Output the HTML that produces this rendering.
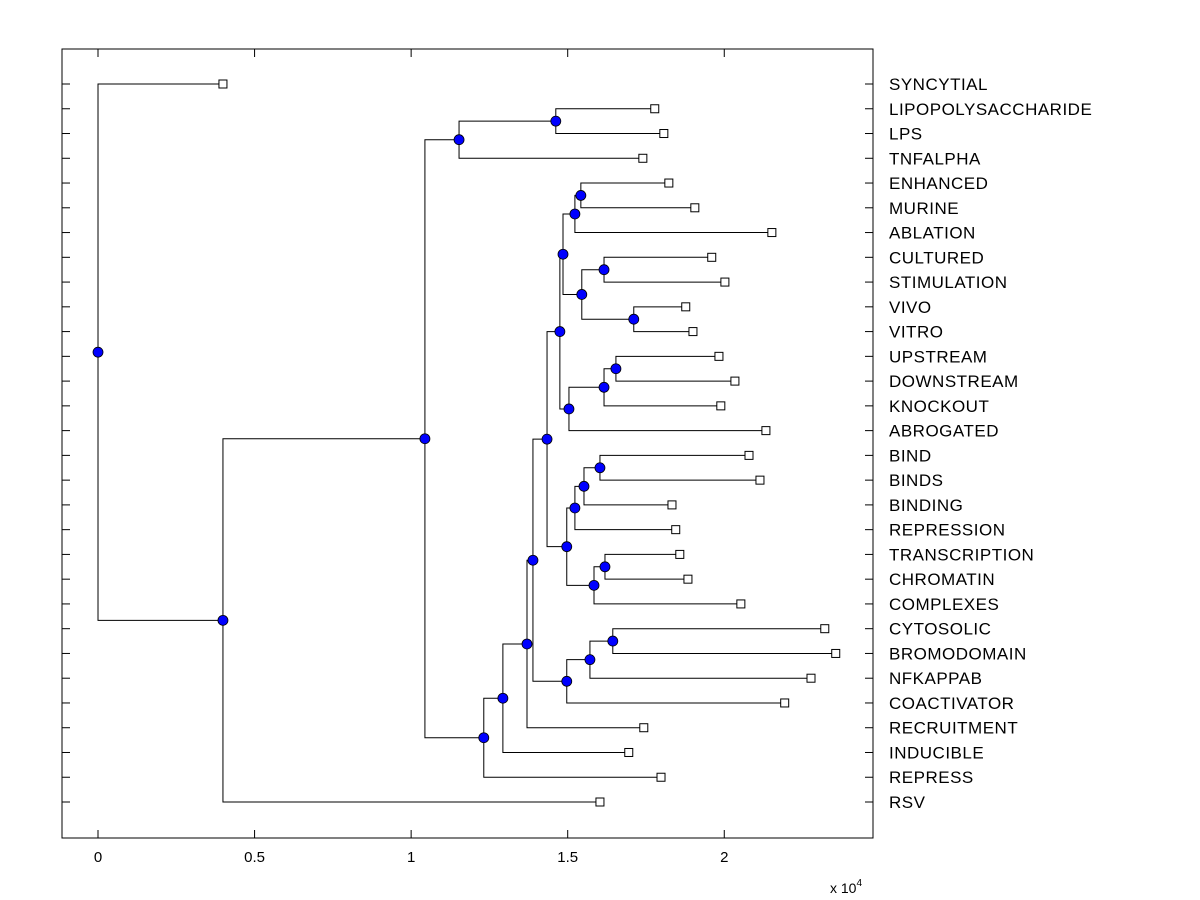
<!DOCTYPE html>
<html><head><meta charset="utf-8"><style>
body{margin:0;background:#fff;}
svg{display:block;font-family:"Liberation Sans",Arial,sans-serif;}
</style></head><body>
<svg id="chart" width="1200" height="900">
<rect x="0" y="0" width="1200" height="900" fill="#fff"/>
<g id="grid"></g>
<g id="links"></g>
<g id="marks"></g>
<g id="labels"></g>
<rect x="62" y="49" width="811" height="789" fill="none" stroke="#000" stroke-width="1"/>
<text x="830" y="893" font-size="14">x 10<tspan dy="-7" font-size="10">4</tspan></text>
</svg>
<script>
const leafLabels=["SYNCYTIAL","LIPOPOLYSACCHARIDE","LPS","TNFALPHA","ENHANCED","MURINE","ABLATION","CULTURED","STIMULATION","VIVO","VITRO","UPSTREAM","DOWNSTREAM","KNOCKOUT","ABROGATED","BIND","BINDS","BINDING","REPRESSION","TRANSCRIPTION","CHROMATIN","COMPLEXES","CYTOSOLIC","BROMODOMAIN","NFKAPPAB","COACTIVATOR","RECRUITMENT","INDUCIBLE","REPRESS","RSV"];
const leafValues=[0.399,1.778,1.807,1.740,1.823,1.906,2.152,1.960,2.002,1.877,1.900,1.983,2.034,1.989,2.133,2.079,2.114,1.833,1.845,1.858,1.884,2.053,2.321,2.356,2.277,2.193,1.743,1.695,1.798,1.603];
const nodeLeft=[1,30,4,32,7,9,34,33,11,38,39,37,15,42,43,19,45,44,41,22,49,50,48,52,53,54,31,56,0];
const nodeRight=[2,3,5,6,8,10,35,36,12,13,14,40,16,17,18,20,21,46,47,23,24,25,51,26,27,28,55,29,57];
const nodeHeight=[1.462,1.153,1.542,1.523,1.616,1.711,1.545,1.485,1.654,1.616,1.504,1.475,1.603,1.552,1.523,1.619,1.584,1.497,1.434,1.644,1.571,1.497,1.389,1.370,1.293,1.232,1.044,0.399,0];
const xTicks=[0,0.5,1,1.5,2];
const xTickLabels=["0","0.5","1","1.5","2"];

const NS="http://www.w3.org/2000/svg";
const X0=62,X1=873,XMIN=-0.115,XMAX=2.475;
const xs=v=>X0+(v-XMIN)/(XMAX-XMIN)*(X1-X0);
const ys=i=>84+i*(802-84)/(leafLabels.length-1);
function mk(tag,attrs,parent){const e=document.createElementNS(NS,tag);for(const k in attrs)e.setAttribute(k,attrs[k]);document.getElementById(parent).appendChild(e);return e;}

const n=leafLabels.length;
const posX=[],posY=[];
for(let i=0;i<n;i++){posX[i]=xs(leafValues[i]);posY[i]=ys(i);}
for(let j=0;j<nodeHeight.length;j++){
  const id=n+j;
  posX[id]=xs(nodeHeight[j]);
  posY[id]=(posY[nodeLeft[j]]+posY[nodeRight[j]])/2;
}
for(let i=0;i<n;i++){
  let t=mk('line',{x1:62,x2:70,y1:ys(i),y2:ys(i),stroke:'#000'},'grid');
  
  
  t=mk('line',{x1:865,x2:873,y1:ys(i),y2:ys(i),stroke:'#000'},'grid');
  
  
  const lb=mk('text',{x:889,y:ys(i)+6,'font-size':17,'letter-spacing':0.5},'labels');
  lb.textContent=leafLabels[i];
  
  
}
xTicks.forEach((v,k)=>{
  let t=mk('line',{x1:xs(v),x2:xs(v),y1:830,y2:838,stroke:'#000'},'grid');
  
  
  t=mk('line',{x1:xs(v),x2:xs(v),y1:49,y2:57,stroke:'#000'},'grid');
  
  
  const lb=mk('text',{x:xs(v),y:862,'font-size':15,'text-anchor':'middle'},'labels');
  lb.textContent=xTickLabels[k];
  
  
});
for(let j=0;j<nodeHeight.length;j++){
  const id=n+j;
  [nodeLeft[j],nodeRight[j]].forEach(c=>{
    const p=mk('path',{d:`M${posX[id]},${posY[id]}V${posY[c]}H${posX[c]}`,fill:'none',stroke:'#000','stroke-width':1},'links');
    
    
  });
}
for(let i=0;i<n;i++){
  const r=mk('rect',{x:posX[i]-4,y:posY[i]-4,width:8,height:8,fill:'#fff',stroke:'#000'},'marks');
  
  
}
for(let j=0;j<nodeHeight.length;j++){
  const c=mk('circle',{cx:posX[n+j],cy:posY[n+j],r:5,fill:'#0000ff',stroke:'#000','stroke-width':0.8},'marks');
  
  
}
</script>
</body></html>
